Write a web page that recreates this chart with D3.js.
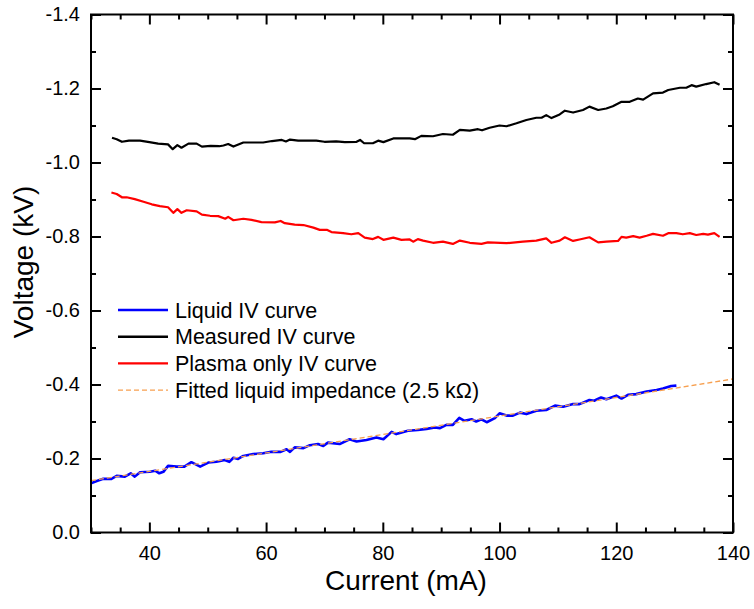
<!DOCTYPE html>
<html>
<head>
<meta charset="utf-8">
<script src="https://cdn.jsdelivr.net/npm/d3@7"></script>
<style>
  body { margin: 0; background: #fff; }
  text { font-family: "Liberation Sans", Arial, sans-serif; }
</style>
</head>
<body>
<script>
// current in mA, voltage in kV
var measuredI = [33.6,34.4,35.3,36.5,38.4,40.0,41.5,43.2,44.0,44.8,45.5,46.7,48.1,49.0,50.5,52.0,52.7,53.5,54.4,56.1,58.0,59.5,61.0,62.7,63.4,64.1,65.5,67.0,68.6,70.0,72.0,73.5,75.5,76.1,76.8,78.3,79.2,80.1,81.8,83.5,84.6,85.5,86.6,88.6,90.3,92.0,93.2,94.9,96.3,97.0,98.3,100.0,101.2,102.9,104.6,106.3,107.2,108.0,108.9,110.3,111.2,112.6,114.3,115.4,116.9,118.3,119.4,120.9,122.3,123.7,124.6,126.3,128.0,128.9,130.9,132.0,132.9,133.7,135.4,136.8,137.7];
var measuredV = [-1.067,-1.063,-1.056,-1.059,-1.059,-1.055,-1.051,-1.049,-1.036,-1.047,-1.040,-1.051,-1.051,-1.043,-1.045,-1.044,-1.046,-1.050,-1.043,-1.054,-1.054,-1.054,-1.058,-1.061,-1.057,-1.062,-1.059,-1.059,-1.059,-1.056,-1.057,-1.055,-1.056,-1.061,-1.052,-1.052,-1.059,-1.055,-1.065,-1.065,-1.065,-1.063,-1.072,-1.071,-1.077,-1.075,-1.088,-1.086,-1.090,-1.087,-1.094,-1.100,-1.098,-1.106,-1.115,-1.121,-1.121,-1.128,-1.120,-1.130,-1.140,-1.135,-1.142,-1.151,-1.142,-1.146,-1.152,-1.164,-1.164,-1.173,-1.170,-1.187,-1.189,-1.196,-1.202,-1.202,-1.209,-1.205,-1.212,-1.217,-1.210];

var plasmaI = [33.5,34.4,35.3,36.1,37.5,39.0,40.4,41.8,43.2,44.1,44.8,45.5,46.4,48.1,49.0,50.4,51.8,53.0,53.5,54.4,56.1,57.5,59.2,61.5,62.5,63.2,64.9,66.4,68.1,69.2,70.4,71.2,73.2,74.6,75.8,76.9,78.3,79.2,80.1,81.8,83.2,84.6,85.2,86.0,86.9,88.6,90.3,92.0,93.2,94.9,96.9,98.0,101.2,104.0,106.3,108.0,108.9,110.3,111.2,112.6,113.7,115.4,116.9,118.3,120.3,120.9,121.7,122.9,124.0,125.2,126.3,128.0,128.9,130.3,131.4,132.6,133.7,134.9,135.7,136.8,137.7];
var plasmaV = [-0.919,-0.915,-0.906,-0.906,-0.901,-0.894,-0.887,-0.882,-0.879,-0.864,-0.874,-0.864,-0.871,-0.868,-0.859,-0.856,-0.855,-0.848,-0.853,-0.844,-0.848,-0.845,-0.839,-0.838,-0.842,-0.836,-0.832,-0.831,-0.824,-0.818,-0.818,-0.812,-0.809,-0.806,-0.809,-0.797,-0.793,-0.799,-0.791,-0.797,-0.791,-0.792,-0.786,-0.793,-0.789,-0.783,-0.786,-0.780,-0.789,-0.783,-0.780,-0.784,-0.782,-0.786,-0.789,-0.795,-0.783,-0.789,-0.798,-0.788,-0.792,-0.798,-0.784,-0.786,-0.788,-0.799,-0.797,-0.801,-0.797,-0.802,-0.807,-0.802,-0.809,-0.809,-0.806,-0.809,-0.804,-0.807,-0.805,-0.809,-0.799];

var liquidI = [30.0,31.0,32.1,33.5,34.4,35.8,36.8,37.5,38.4,40.1,41.0,41.7,42.4,43.2,44.7,46.0,47.2,48.7,50.1,51.5,52.9,53.7,54.4,55.2,56.1,57.8,59.5,60.9,62.5,63.5,64.1,64.9,66.4,67.5,68.9,69.8,70.6,72.6,74.3,75.5,77.2,78.9,80.1,81.5,82.3,84.3,86.0,87.5,88.9,89.8,90.9,92.0,93.1,94.0,95.2,96.0,96.9,97.8,99.2,100.0,101.2,102.3,103.5,104.6,106.3,108.0,109.5,110.9,112.6,113.7,115.4,116.2,117.4,118.3,120.0,120.9,122.0,123.4,125.2,126.9,128.0,129.4,130.3];
var liquidV = [-0.133,-0.139,-0.145,-0.145,-0.153,-0.151,-0.160,-0.151,-0.163,-0.164,-0.167,-0.160,-0.164,-0.180,-0.178,-0.178,-0.190,-0.178,-0.189,-0.191,-0.196,-0.191,-0.202,-0.199,-0.207,-0.212,-0.214,-0.218,-0.218,-0.225,-0.218,-0.230,-0.228,-0.236,-0.239,-0.234,-0.243,-0.239,-0.252,-0.246,-0.250,-0.257,-0.252,-0.272,-0.266,-0.275,-0.277,-0.280,-0.284,-0.282,-0.291,-0.291,-0.310,-0.302,-0.306,-0.300,-0.306,-0.298,-0.309,-0.322,-0.316,-0.316,-0.324,-0.320,-0.329,-0.331,-0.343,-0.340,-0.347,-0.347,-0.358,-0.356,-0.365,-0.360,-0.370,-0.362,-0.372,-0.374,-0.381,-0.385,-0.389,-0.396,-0.397];

var fitI = [30, 140];
var fitV = [-0.140, -0.415];

var xTicks = [40, 60, 80, 100, 120, 140];
var yTicks = [0, -0.2, -0.4, -0.6, -0.8, -1.0, -1.2, -1.4];

var legendNames = ["Liquid IV curve", "Measured IV curve", "Plasma only IV curve", "Fitted liquid impedance (2.5 k\u03A9)"];
var legendColors = ["#0000ff", "#000000", "#ff0000", "#f7a050"];

var width = 754, height = 609;
// plot box edges (note: "top" is reserved on window, so use other names)
var pLeft = 91, pRight = 733, pTop = 14.5, pBottom = 532.5;

var svg = d3.select('body').append('svg')
    .attr('width', width)
    .attr('height', height);

var x = d3.scaleLinear().domain([30, 140]).range([pLeft, pRight]);
var y = d3.scaleLinear().domain([0, -1.4]).range([pBottom, pTop]);

function zip(a, b) {
    return a.map(function (d, i) { return [d, b[i]]; });
}

var line = d3.line()
    .x(function (d) { return x(d[0]); })
    .y(function (d) { return y(d[1]); });

svg.append('clipPath').attr('id', 'clip')
    .append('rect').attr('x', pLeft).attr('y', pTop)
    .attr('width', pRight - pLeft).attr('height', pBottom - pTop);

var plot = svg.append('g').attr('clip-path', 'url(#clip)');

plot.append('path').datum(zip(measuredI, measuredV))
    .attr('d', line).attr('fill', 'none')
    .attr('stroke', legendColors[1]).attr('stroke-width', 2.2)
    .attr('stroke-linejoin', 'round');

plot.append('path').datum(zip(plasmaI, plasmaV))
    .attr('d', line).attr('fill', 'none')
    .attr('stroke', legendColors[2]).attr('stroke-width', 2.2)
    .attr('stroke-linejoin', 'round');

plot.append('path').datum(zip(liquidI, liquidV))
    .attr('d', line).attr('fill', 'none')
    .attr('stroke', legendColors[0]).attr('stroke-width', 2.6)
    .attr('stroke-linejoin', 'round');

plot.append('path').datum(zip(fitI, fitV))
    .attr('d', line).attr('fill', 'none')
    .attr('stroke', legendColors[3]).attr('stroke-width', 1.3)
    .attr('stroke-dasharray', '5,3');

// minor ticks half way between majors
var xMinor = d3.range(30, 141, 5).filter(function (d) { return d % 20 != 0; });
var yMinor = d3.range(1, 14, 2).map(function (d) { return -d / 10; });

function fmt(d) { return Math.abs(d) < 1e-9 ? "0.0" : d.toFixed(1); }

var axisFont = 20;

// bottom
svg.append('g').attr('transform', 'translate(0,' + pBottom + ')')
    .call(d3.axisBottom(x).tickValues(xMinor).tickSizeInner(-5).tickSizeOuter(0).tickFormat(''));
svg.append('g').attr('transform', 'translate(0,' + pBottom + ')')
    .call(d3.axisBottom(x).tickValues(xTicks).tickSizeInner(-10).tickSizeOuter(0).tickPadding(13).tickFormat(d3.format('d')));
// top
svg.append('g').attr('transform', 'translate(0,' + pTop + ')')
    .call(d3.axisTop(x).tickValues(xMinor).tickSizeInner(-5).tickSizeOuter(0).tickFormat(''));
svg.append('g').attr('transform', 'translate(0,' + pTop + ')')
    .call(d3.axisTop(x).tickValues(xTicks).tickSizeInner(-10).tickSizeOuter(0).tickFormat(''));
// left
svg.append('g').attr('transform', 'translate(' + pLeft + ',0)')
    .call(d3.axisLeft(y).tickValues(yMinor).tickSizeInner(-5).tickSizeOuter(0).tickFormat(''));
svg.append('g').attr('transform', 'translate(' + pLeft + ',0)')
    .call(d3.axisLeft(y).tickValues(yTicks).tickSizeInner(-10).tickSizeOuter(0).tickPadding(11).tickFormat(fmt));
// right
svg.append('g').attr('transform', 'translate(' + pRight + ',0)')
    .call(d3.axisRight(y).tickValues(yMinor).tickSizeInner(-5).tickSizeOuter(0).tickFormat(''));
svg.append('g').attr('transform', 'translate(' + pRight + ',0)')
    .call(d3.axisRight(y).tickValues(yTicks).tickSizeInner(-10).tickSizeOuter(0).tickFormat(''));

svg.selectAll('.domain').remove();
svg.selectAll('.tick line').attr('stroke', '#000').attr('stroke-width', 2);
svg.selectAll('.tick text')
    .attr('font-size', axisFont)
    .attr('fill', '#000')
    .style('font-family', '"Liberation Sans", Arial, sans-serif');

// frame
svg.append('rect')
    .attr('x', pLeft).attr('y', pTop)
    .attr('width', pRight - pLeft).attr('height', pBottom - pTop)
    .attr('fill', 'none').attr('stroke', '#000').attr('stroke-width', 2);

// axis titles
svg.append('text')
    .attr('x', 406).attr('y', 590)
    .attr('text-anchor', 'middle')
    .attr('font-size', 28)
    .text('Current (mA)');

svg.append('text')
    .attr('transform', 'translate(33,262) rotate(-90)')
    .attr('text-anchor', 'middle')
    .attr('font-size', 28)
    .text('Voltage (kV)');

// legend
var legend = svg.append('g');
var rows = legend.selectAll('g').data(legendNames).enter().append('g')
    .attr('transform', function (d, i) { return 'translate(118,' + (310 + i * 26.7) + ')'; });

rows.append('line')
    .attr('x1', 0).attr('x2', 50).attr('y1', 0).attr('y2', 0)
    .attr('stroke', function (d, i) { return legendColors[i]; })
    .attr('stroke-width', function (d, i) { return i == 3 ? 1.3 : 2.4; })
    .attr('stroke-dasharray', function (d, i) { return i == 3 ? '5,3' : null; });

rows.append('text')
    .attr('x', 57).attr('y', 7.5)
    .attr('font-size', 21.5)
    .text(function (d) { return d; });
</script>
</body>
</html>
